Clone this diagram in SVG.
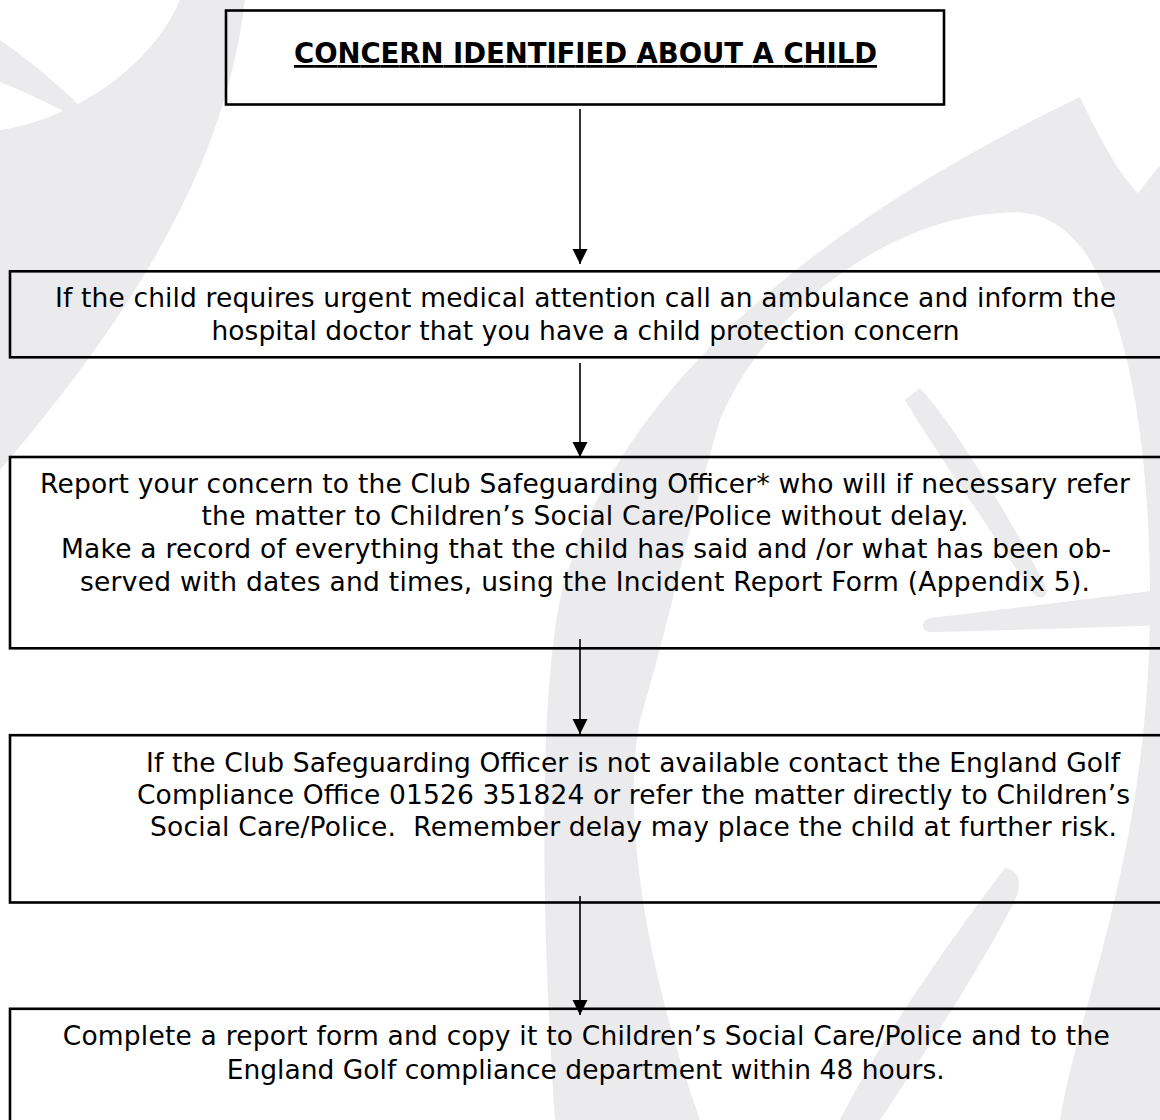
<svg xmlns="http://www.w3.org/2000/svg" width="1160" height="1120" viewBox="0 0 1160 1120">
<style>
.bg{fill:#ffffff}
.wm{fill:#ebebed;stroke:none}
.box{fill:none;stroke:#000;stroke-width:2.6}
.t{font-family:"DejaVu Sans",Verdana,sans-serif;font-size:26.5px;fill:#000;white-space:pre}
.title{font-family:"DejaVu Sans",Verdana,sans-serif;font-size:27.5px;font-weight:bold;fill:#000;text-decoration:underline}
.conn{stroke:#000;stroke-width:1.6;fill:none}
</style>
<defs>
<marker id="arr" markerUnits="userSpaceOnUse" markerWidth="16" markerHeight="16" viewBox="0 0 16 16" refX="15" refY="8" orient="auto">
<path d="M0,0.5 L15,8 L0,15.5 Z" fill="#000"/>
</marker>
</defs>
<rect class="bg" x="0" y="0" width="1160" height="1120"/>
<g id="watermark">
<path class="wm" d="M0,40 C30,60 70,95 92,118 C100,126 95,130 86,124 C60,108 25,92 0,82 Z"/>
<path class="wm" d="M0,130 C70,120 150,70 180,0 L245,0 C230,120 180,260 0,470 Z"/>
<path class="wm" d="M555,1120 C540,900 540,700 560,600 C600,430 760,250 1080,97 C1100,140 1120,175 1138,193 L1160,165 L1160,1120 L1060,1120 C1080,1000 1150,850 1150,600 C1150,450 1130,330 1090,260 C1060,215 1030,210 1000,213 C880,220 760,320 720,420 C690,520 670,620 640,720 C620,820 650,980 700,1120 Z"/>
<path class="wm" d="M920,388 C950,420 1000,500 1045,585 C1050,598 1040,602 1032,592 C990,530 935,450 905,400 Z"/>
<path class="wm" d="M1160,590 C1080,600 1000,610 930,618 C918,622 922,634 935,632 C1010,630 1090,628 1160,625 Z"/>
<path class="wm" d="M1005,868 C1020,870 1022,885 1015,900 C980,970 920,1060 880,1120 L840,1120 C880,1040 950,940 1005,868 Z"/>
</g>
<g id="connectors">
<line class="conn" x1="580" y1="109" x2="580" y2="264" marker-end="url(#arr)"/>
<line class="conn" x1="580" y1="363" x2="580" y2="457" marker-end="url(#arr)"/>
<line class="conn" x1="580" y1="639" x2="580" y2="734" marker-end="url(#arr)"/>
<line class="conn" x1="580" y1="896" x2="580" y2="1015" marker-end="url(#arr)"/>
</g>
<g id="node1">
<rect class="box" x="226" y="10.5" width="718" height="94"/>
<text class="title" x="294" y="63" textLength="583">CONCERN IDENTIFIED ABOUT A CHILD</text>
</g>
<g id="node2">
<rect class="box" x="10" y="271.3" width="1170" height="86"/>
<text class="t" x="55" y="307" textLength="1061">If the child requires urgent medical attention call an ambulance and inform the</text>
<text class="t" x="211.5" y="340" textLength="748">hospital doctor that you have a child protection concern</text>
</g>
<g id="node3">
<rect class="box" x="10" y="457" width="1170" height="191.3"/>
<text class="t" x="40" y="492.5" textLength="1090">Report your concern to the Club Safeguarding Officer* who will if necessary refer</text>
<text class="t" x="201.5" y="525" textLength="767">the matter to Children’s Social Care/Police without delay.</text>
<text class="t" x="61" y="558" textLength="1050">Make a record of everything that the child has said and /or what has been ob-</text>
<text class="t" x="80" y="590.5" textLength="1010">served with dates and times, using the Incident Report Form (Appendix 5).</text>
</g>
<g id="node4">
<rect class="box" x="10" y="735.2" width="1170" height="167.3"/>
<text class="t" x="146" y="771.5" textLength="974">If the Club Safeguarding Officer is not available contact the England Golf</text>
<text class="t" x="137" y="803.5" textLength="993">Compliance Office 01526 351824 or refer the matter directly to Children’s</text>
<text class="t" x="150" y="836" textLength="967">Social Care/Police.  Remember delay may place the child at further risk.</text>
</g>
<g id="node5">
<rect class="box" x="10" y="1008.8" width="1170" height="130"/>
<text class="t" x="62.7" y="1045" textLength="1047">Complete a report form and copy it to Children’s Social Care/Police and to the</text>
<text class="t" x="226.7" y="1078.5" textLength="718">England Golf compliance department within 48 hours.</text>
</g>
</svg>
